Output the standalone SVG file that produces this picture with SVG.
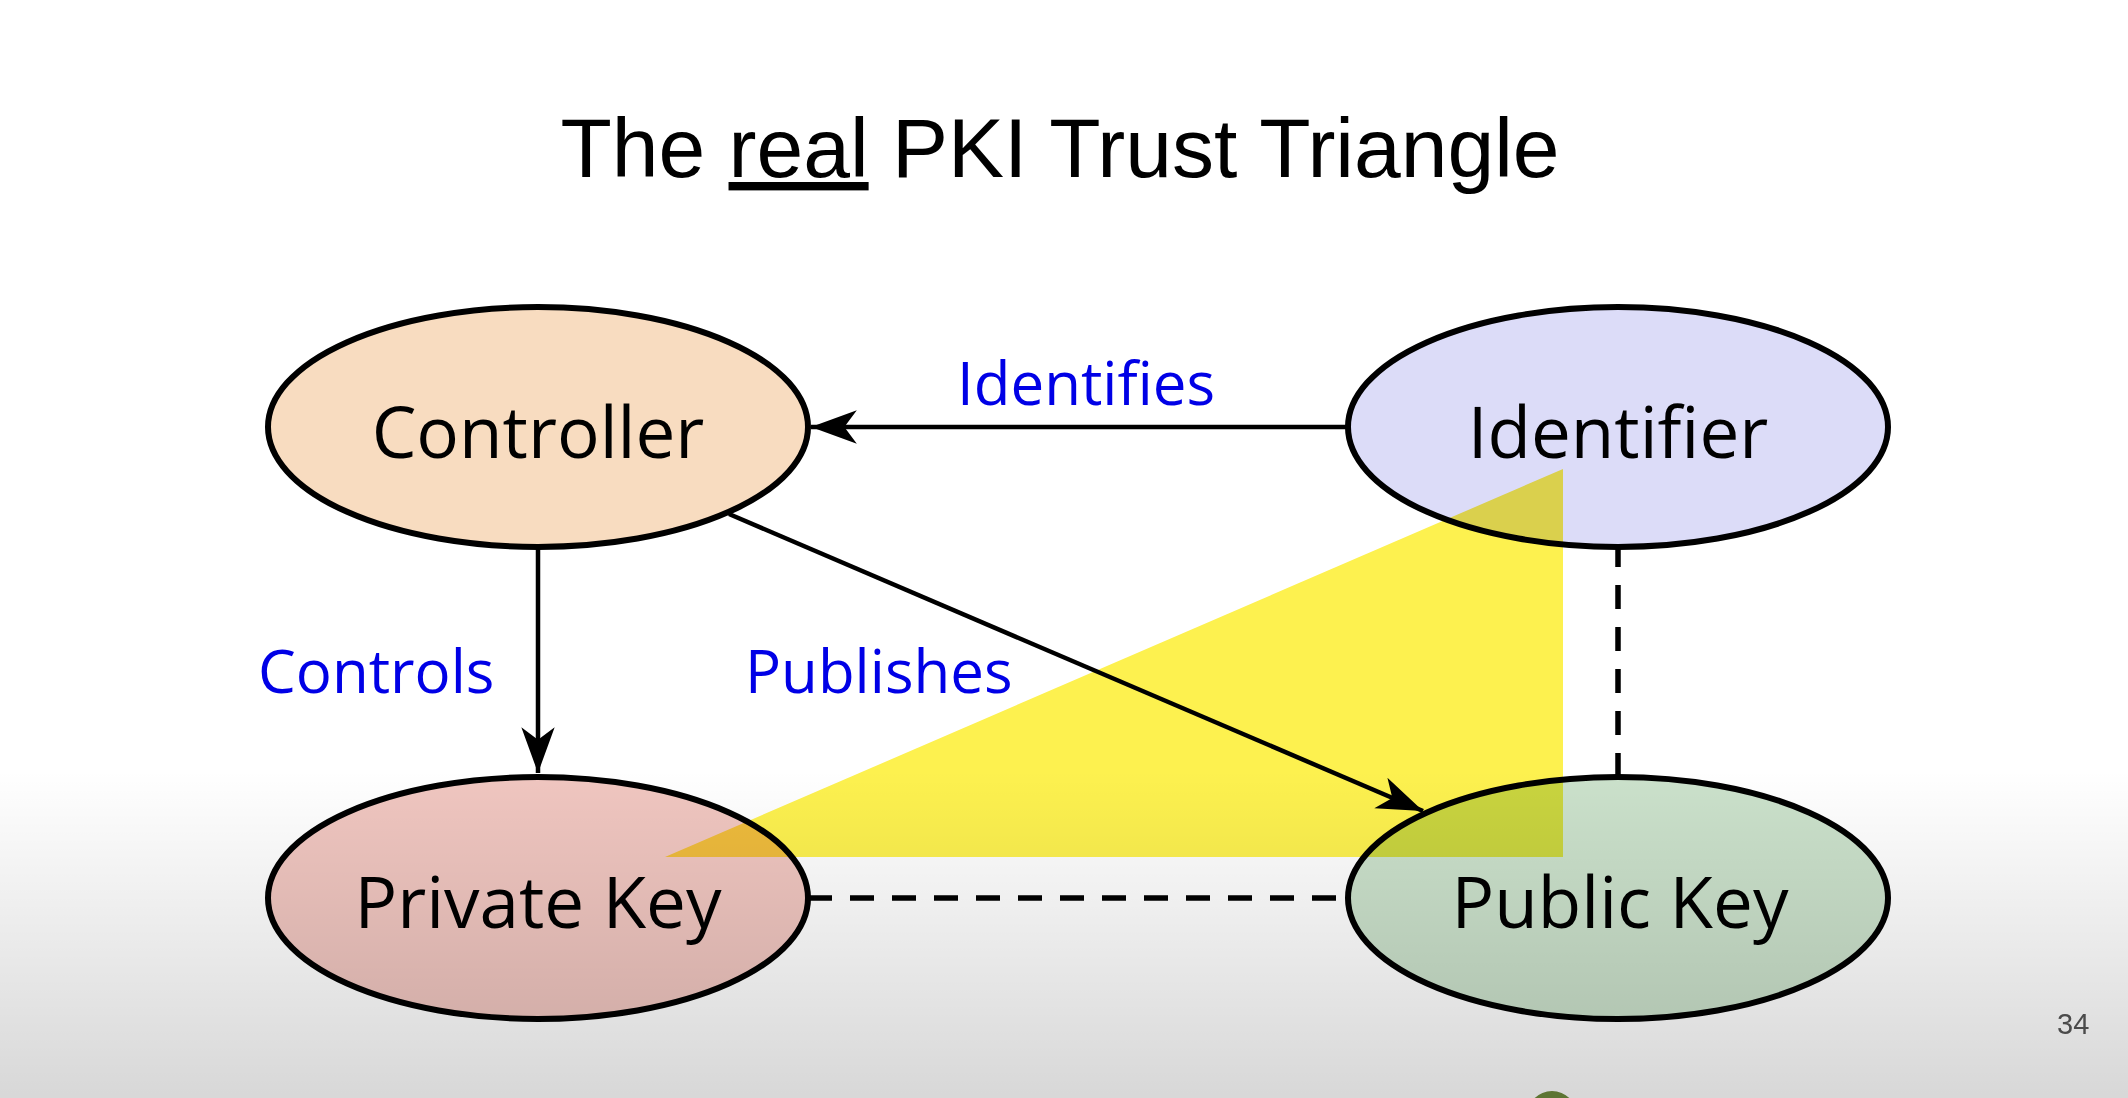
<svg xmlns="http://www.w3.org/2000/svg" width="2128" height="1098" viewBox="0 0 2128 1098">
<style>
.node{stroke:#000;stroke-width:6}
.nlabel{font-family:"Open Sans","Noto Sans",sans-serif;font-size:71px;fill:#000;text-anchor:middle}
.elabel{font-family:"Open Sans","Noto Sans",sans-serif;font-size:60px;fill:#0000E6}
.edge{stroke:#000;stroke-width:4.5;fill:none}
.dash{stroke:#000;stroke-width:5.5;fill:none;stroke-dasharray:24 18}
.title{font-family:"Liberation Sans",Arial,sans-serif;font-size:84px;fill:#000;text-anchor:middle}
</style>
<defs>
<marker id="arrow" markerUnits="userSpaceOnUse" markerWidth="50" markerHeight="40" viewBox="-46 -18 48 36" refX="0" refY="0" orient="auto">
<path d="M0,0 L-44,-16 L-32,0 L-44,16 Z" fill="#000"/>
</marker>
<linearGradient id="shade" x1="0" y1="0" x2="0" y2="1">
<stop offset="0" stop-color="#000" stop-opacity="0"/>
<stop offset="1" stop-color="#000" stop-opacity="0.155"/>
</linearGradient>
</defs>
<rect width="2128" height="1098" fill="#fff"/>
<g id="title">
<text class="title" x="1060" y="177">The <tspan text-decoration="underline">real</tspan> PKI Trust Triangle</text>
</g>
<g id="connectors">
<line class="edge" x1="1350" y1="427" x2="811" y2="427" marker-end="url(#arrow)"/>
<line class="edge" x1="538" y1="548" x2="538" y2="773" marker-end="url(#arrow)"/>
<line class="edge" x1="729" y1="514" x2="1423" y2="811" marker-end="url(#arrow)"/>
<line class="dash" x1="810" y1="898" x2="1348" y2="898" stroke-dashoffset="2"/>
<line class="dash" x1="1618" y1="548" x2="1618" y2="775" stroke-dashoffset="5"/>
<text class="elabel" x="957" y="405">Identifies</text>
<text class="elabel" x="258" y="693">Controls</text>
<text class="elabel" x="745" y="693">Publishes</text>
</g>
<g id="controller">
<ellipse class="node" cx="538" cy="427" rx="270" ry="120" fill="#F8DCC0"/>
<text class="nlabel" x="538" y="458">Controller</text>
</g>
<g id="identifier">
<ellipse class="node" cx="1618" cy="427" rx="270" ry="120" fill="#DCDCF8"/>
<text class="nlabel" x="1618" y="458">Identifier</text>
</g>
<g id="private-key">
<ellipse class="node" cx="538" cy="898" rx="270" ry="121" fill="#F0C6C0"/>
<text class="nlabel" x="538" y="928">Private Key</text>
</g>
<g id="public-key">
<ellipse class="node" cx="1618" cy="898" rx="270" ry="121" fill="#CBE1CB"/>
<text class="nlabel" x="1620" y="928">Public Key</text>
</g>
<g id="trust-triangle">
<polygon points="665,857 1563,857 1563,469" fill="#FDF14F" style="mix-blend-mode:multiply"/>
</g>
<g id="footer">
<text x="2057" y="1034" font-family="Liberation Sans,Arial,sans-serif" font-size="29" fill="#555">34</text>
<circle cx="1552" cy="1116" r="25" fill="#6E8A3C"/>
</g>
<rect x="0" y="770" width="2128" height="328" fill="url(#shade)" pointer-events="none"/>
</svg>
